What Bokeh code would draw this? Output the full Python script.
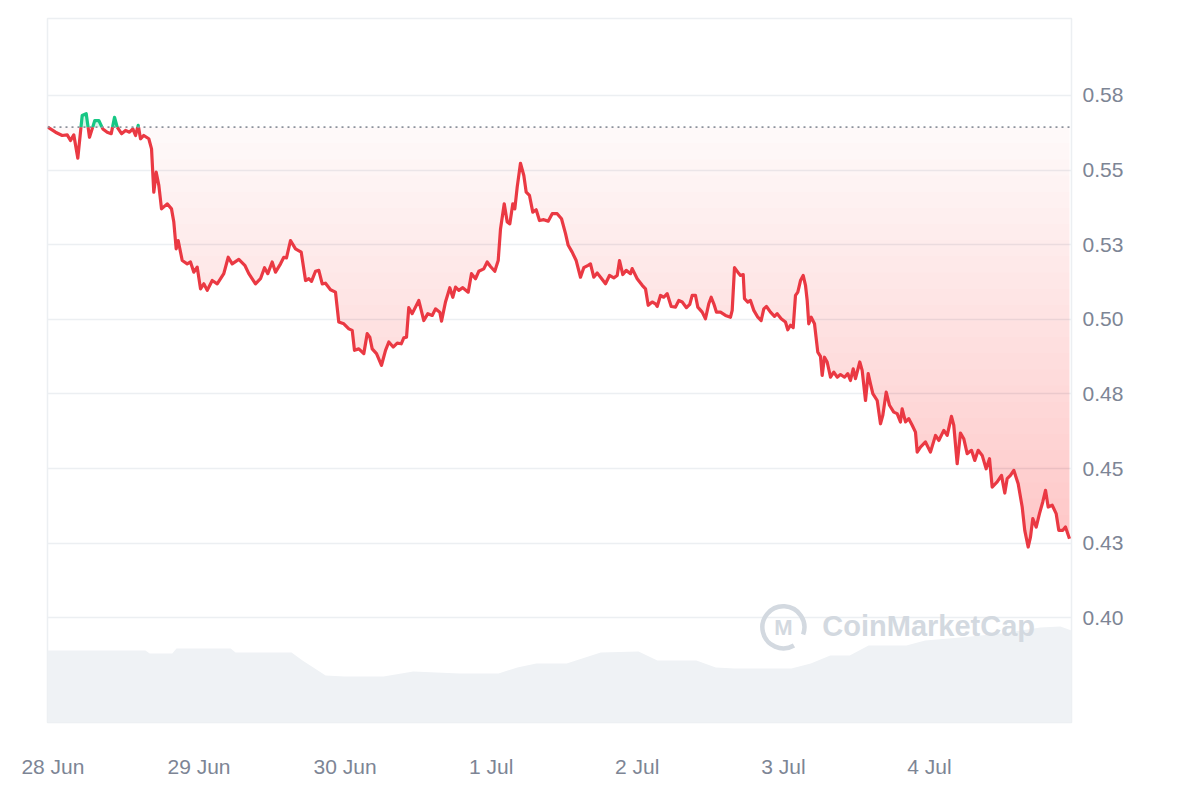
import numpy as np
from bokeh.plotting import figure
from bokeh.models import Range1d, FixedTicker, Span, Label
from bokeh.embed import file_html
from bokeh.resources import INLINE

# ---- data (hours since 28 Jun 00:00, price in USD) ----
hours = [-0.85, 0.43, 1.53, 2.35, 2.89, 3.43, 4.09, 4.81, 5.47, 6.01, 6.88, 7.54, 8.20, 8.92,
         9.58, 10.12, 10.56, 11.27, 11.93, 12.58, 13.13, 13.57, 14.01, 14.39, 14.93, 15.75,
         16.20, 16.57, 16.97, 17.40, 17.84, 18.78, 19.48, 19.86, 20.25, 20.58, 21.24, 22.06,
         22.60, 23.15, 23.70, 24.25, 24.79, 25.35, 26.17, 26.99, 28.07, 28.80, 29.45, 30.54,
         31.52, 32.18, 33.28, 34.10, 34.76, 35.30, 36.02, 36.57, 37.39, 37.93, 38.37, 39.03,
         39.85, 40.79, 41.50, 42.04, 42.48, 43.14, 43.68, 44.24, 44.78, 45.60, 46.42, 46.96,
         47.79, 48.61, 49.17, 49.54, 50.25, 51.07, 51.63, 52.06, 52.45, 53.16, 53.98, 54.64,
         55.18, 55.90, 56.56, 57.22, 57.64, 58.09, 58.46, 59.02, 60.11, 60.93, 61.59, 62.31,
         62.85, 63.56, 63.84, 64.49, 65.20, 65.69, 66.14, 66.68, 67.33, 68.22, 68.76, 69.42,
         69.96, 70.78, 71.34, 71.88, 72.59, 73.15, 73.53, 74.14, 74.63, 75.06, 75.55, 75.88,
         76.27, 76.81, 77.36, 77.75, 78.29, 78.83, 79.39, 79.93, 80.64, 81.36, 82.02, 82.84,
         83.55, 84.21, 84.65, 85.30, 85.96, 86.67, 87.21, 87.93, 88.31, 88.85, 89.41, 89.96,
         90.78, 91.43, 92.14, 92.70, 93.08, 93.62, 94.18, 94.88, 95.16, 95.98, 96.81, 97.35,
         97.79, 98.45, 98.99, 99.27, 99.81, 100.35, 100.91, 101.57, 102.28, 102.82, 103.38,
         104.08, 104.62, 105.02, 105.56, 105.94, 106.66, 107.20, 107.74, 108.14, 108.57,
         109.01, 109.67, 110.49, 111.31, 111.59, 111.97, 112.51, 112.95, 113.40, 113.61,
         114.15, 114.59, 115.14, 115.80, 116.35, 116.78, 117.22, 117.88, 118.54, 118.98,
         119.64, 120.34, 120.72, 121.17, 121.61, 121.99, 122.37, 122.81, 123.25, 123.63,
         123.91, 124.17, 124.57, 125.11, 125.65, 126.09, 126.37, 126.75, 127.19, 127.74,
         128.28, 128.84, 129.38, 130.04, 130.58, 131.02, 131.47, 131.84, 132.55, 132.94,
         133.49, 133.93, 134.31, 134.69, 135.41, 135.95, 136.33, 136.89, 137.43, 138.13,
         138.69, 139.23, 139.51, 140.06, 140.60, 141.16, 141.70, 141.98, 142.52, 143.34,
         144.16, 144.99, 145.53, 146.35, 146.91, 147.61, 147.99, 148.55, 149.09, 149.63,
         150.19, 150.90, 151.44, 152.00, 152.66, 153.31, 153.86, 154.30, 155.12, 155.83,
         156.37, 156.76, 157.30, 157.85, 158.57, 159.23, 159.65, 160.21, 160.59, 160.97,
         161.53, 162.07, 162.61, 163.06, 163.50, 164.16, 164.81, 165.24, 165.90, 166.34,
         167.00]

prices = [0.5644, 0.5627, 0.5616, 0.5618, 0.5599, 0.5618, 0.5540, 0.5683, 0.5689, 0.5610,
          0.5666, 0.5666, 0.5638, 0.5627, 0.5622, 0.5677, 0.5644, 0.5622, 0.5633, 0.5627,
          0.5638, 0.5616, 0.5650, 0.5605, 0.5616, 0.5605, 0.5571, 0.5426, 0.5493, 0.5449,
          0.5370, 0.5387, 0.5370, 0.5326, 0.5236, 0.5264, 0.5197, 0.5186, 0.5192, 0.5158,
          0.5175, 0.5102, 0.5119, 0.5097, 0.5130, 0.5119, 0.5153, 0.5208, 0.5186, 0.5201,
          0.5181, 0.5153, 0.5119, 0.5136, 0.5173, 0.5153, 0.5192, 0.5158, 0.5186, 0.5208,
          0.5206, 0.5264, 0.5236, 0.5225, 0.5130, 0.5136, 0.5127, 0.5161, 0.5164, 0.5119,
          0.5121, 0.5099, 0.5091, 0.4991, 0.4985, 0.4968, 0.4963, 0.4896, 0.4901, 0.4885,
          0.4952, 0.4940, 0.4901, 0.4885, 0.4846, 0.4896, 0.4924, 0.4907, 0.4920, 0.4918,
          0.4938, 0.4940, 0.5039, 0.5019, 0.5063, 0.4996, 0.5019, 0.5013, 0.5035, 0.5024,
          0.4994, 0.5058, 0.5106, 0.5074, 0.5108, 0.5097, 0.5106, 0.5091, 0.5153, 0.5136,
          0.5161, 0.5169, 0.5192, 0.5177, 0.5161, 0.5197, 0.5303, 0.5387, 0.5326, 0.5320,
          0.5387, 0.5370, 0.5443, 0.5523, 0.5482, 0.5426, 0.5415, 0.5359, 0.5367, 0.5331,
          0.5334, 0.5329, 0.5354, 0.5354, 0.5337, 0.5287, 0.5248, 0.5225, 0.5197, 0.5141,
          0.5173, 0.5181, 0.5186, 0.5141, 0.5155, 0.5141, 0.5119, 0.5147, 0.5139, 0.5147,
          0.5197, 0.5150, 0.5164, 0.5153, 0.5170, 0.5136, 0.5114, 0.5102, 0.5047, 0.5058,
          0.5052, 0.5043, 0.5080, 0.5074, 0.5086, 0.5043, 0.5041, 0.5063, 0.5058, 0.5039,
          0.5050, 0.5080, 0.5080, 0.5041, 0.5024, 0.5002, 0.5052, 0.5074, 0.5052, 0.5024,
          0.5024, 0.5013, 0.5007, 0.5030, 0.5173, 0.5158, 0.5147, 0.5150, 0.5069, 0.5058,
          0.5063, 0.5030, 0.5007, 0.4996, 0.5035, 0.5043, 0.5024, 0.5010, 0.5019, 0.5002,
          0.4991, 0.4965, 0.4980, 0.4972, 0.5080, 0.5091, 0.5130, 0.5147, 0.5114, 0.5063,
          0.4985, 0.5007, 0.4985, 0.4890, 0.4876, 0.4812, 0.4873, 0.4857, 0.4806, 0.4823,
          0.4806, 0.4815, 0.4806, 0.4818, 0.4795, 0.4834, 0.4801, 0.4857, 0.4829, 0.4728,
          0.4818, 0.4784, 0.4751, 0.4728, 0.4650, 0.4678, 0.4756, 0.4712, 0.4689, 0.4684,
          0.4656, 0.4700, 0.4656, 0.4667, 0.4645, 0.4622, 0.4555, 0.4572, 0.4589, 0.4555,
          0.4611, 0.4594, 0.4628, 0.4611, 0.4675, 0.4645, 0.4516, 0.4619, 0.4600, 0.4550,
          0.4561, 0.4527, 0.4561, 0.4544, 0.4499, 0.4533, 0.4438, 0.4455, 0.4477, 0.4418,
          0.4466, 0.4477, 0.4494, 0.4449, 0.4371, 0.4293, 0.4237, 0.4270, 0.4332, 0.4304,
          0.4349, 0.4388, 0.4427, 0.4371, 0.4377, 0.4349, 0.4293, 0.4293, 0.4304, 0.4265]

vol_hours = [-0.89, 15.2, 15.9, 19.6, 20.3, 29.2, 30.0, 39.2, 41.0, 44.8, 47.9, 54.3, 59.2,
             66.8, 73.2, 76.3, 79.4, 84.4, 90.0, 96.2, 99.3, 105.7, 108.9, 112.0, 121.3,
             124.5, 127.7, 130.9, 134.0, 140.2, 143.3, 149.1, 155.7, 162.2, 165.5, 167.33]
vol_values = [36.0, 36.0, 34.5, 34.5, 37.0, 37.0, 35.0, 35.0, 31.0, 23.5, 23.0, 23.0, 25.5,
              24.5, 24.5, 27.5, 29.5, 29.5, 35.0, 35.5, 31.0, 31.0, 27.5, 27.0, 27.0, 29.5,
              33.5, 33.5, 38.5, 38.5, 41.0, 42.5, 44.5, 47.5, 48.0, 46.0]

x_ticks = [0, 24, 48, 72, 96, 120, 144]
x_tick_labels = ["28 Jun", "29 Jun", "30 Jun", "1 Jul", "2 Jul", "3 Jul", "4 Jul"]
y_ticks = [0.400, 0.425, 0.450, 0.475, 0.500, 0.525, 0.550, 0.575]
y_tick_labels = ["0.40", "0.43", "0.45", "0.48", "0.50", "0.53", "0.55", "0.58"]

RED = "#ea3943"
GREEN = "#16c784"
TEXT = "#7d8595"

t = np.array(hours, dtype=float)
pr = np.array(prices, dtype=float)
base = pr[0]

# insert baseline crossing points so the line can change colour exactly there
ta, pa = [t[0]], [pr[0]]
for i in range(len(t) - 1):
    d0, d1 = pr[i] - base, pr[i + 1] - base
    if d0 * d1 < 0:
        tc = t[i] + (base - pr[i]) / (pr[i + 1] - pr[i]) * (t[i + 1] - t[i])
        ta.append(tc)
        pa.append(base)
    ta.append(t[i + 1])
    pa.append(pr[i + 1])
ta, pa = np.array(ta), np.array(pa)


def above(i):
    return (pa[i] + pa[i + 1]) / 2 > base


pieces = []
start = 0
for i in range(1, len(ta) - 1):
    if above(i) != above(i - 1):
        pieces.append((start, i, above(i - 1)))
        start = i
pieces.append((start, len(ta) - 1, above(len(ta) - 2)))
red_xs, red_ys, green_xs, green_ys = [], [], [], []
for s, e, g in pieces:
    if g:
        green_xs.append(list(ta[s:e + 1]))
        green_ys.append(list(pa[s:e + 1]))
    else:
        red_xs.append(list(ta[s:e + 1]))
        red_ys.append(list(pa[s:e + 1]))

p = figure(width=1190, height=790,
           x_range=Range1d(-0.89, 167.33), y_range=Range1d(0.3649, 0.6008),
           output_backend="svg", toolbar_location=None, y_axis_location="right",
           min_border_left=47, min_border_right=119, min_border_top=18, min_border_bottom=68)
p.background_fill_color = "white"
p.border_fill_color = "white"
p.outline_line_color = "#eceff2"
p.outline_line_width = 1.5

# volume area on its own scale
p.extra_y_ranges = {"vol": Range1d(0, 352)}
p.varea(x=vol_hours, y1=0, y2=vol_values, y_range_name="vol", fill_color="#eff2f5")

# red gradient fill between baseline and the price line
pmin = pa.min()
N = 26
for k in range(N):
    e_k = base - k * (base - pmin) / N
    a = 0.03 if k == 0 else 0.0118
    p.varea(x=ta, y1=np.minimum(pa, e_k), y2=e_k, fill_color=RED, fill_alpha=a)

# green fill above baseline
p.varea(x=ta, y1=base, y2=np.maximum(pa, base), fill_color=GREEN, fill_alpha=0.18)

p.add_layout(Span(location=base, dimension="width", line_color="#8c929c",
                  line_dash="2 4", line_width=1.6))

p.multi_line(xs=red_xs, ys=red_ys, line_color=RED, line_width=3.2, line_join="round")
p.multi_line(xs=green_xs, ys=green_ys, line_color=GREEN, line_width=3.2, line_join="round")

# watermark
p.arc(x=[120.0], y=[0.3968], radius=21, radius_units="screen",
      start_angle=-0.35, end_angle=5.24, line_color="#d3d9e0", line_width=4.5)
p.add_layout(Label(x=120.0, y=0.3968, text="M", text_align="center", text_baseline="middle",
                   text_font="Liberation Sans", text_font_size="22px", text_font_style="bold",
                   text_color="#d3d9e0"))
p.add_layout(Label(x=126.4, y=0.3971, text="CoinMarketCap", text_align="left",
                   text_baseline="middle", text_font="Liberation Sans", text_font_size="29px",
                   text_font_style="bold", text_color="#d3d9e0"))

# axes
p.xaxis.ticker = FixedTicker(ticks=x_ticks)
p.xaxis.major_label_overrides = dict(zip(x_ticks, x_tick_labels))
p.yaxis.ticker = FixedTicker(ticks=y_ticks)
p.yaxis.major_label_overrides = dict(zip(y_ticks, y_tick_labels))
p.ygrid.ticker = FixedTicker(ticks=y_ticks)
for ax in (p.xaxis[0], p.yaxis[0]):
    ax.axis_line_color = None
    ax.major_tick_line_color = None
    ax.minor_tick_line_color = None
    ax.major_tick_out = 0
    ax.minor_tick_out = 0
    ax.major_label_text_font = "Liberation Sans"
    ax.major_label_text_font_size = "21px"
    ax.major_label_text_color = TEXT
p.xaxis.major_label_standoff = 32
p.yaxis.major_label_standoff = 11
p.xgrid.visible = False
p.ygrid.grid_line_color = "#eceff2"
p.ygrid.grid_line_width = 1.5

open("out.html", "w").write(file_html(p, INLINE))
